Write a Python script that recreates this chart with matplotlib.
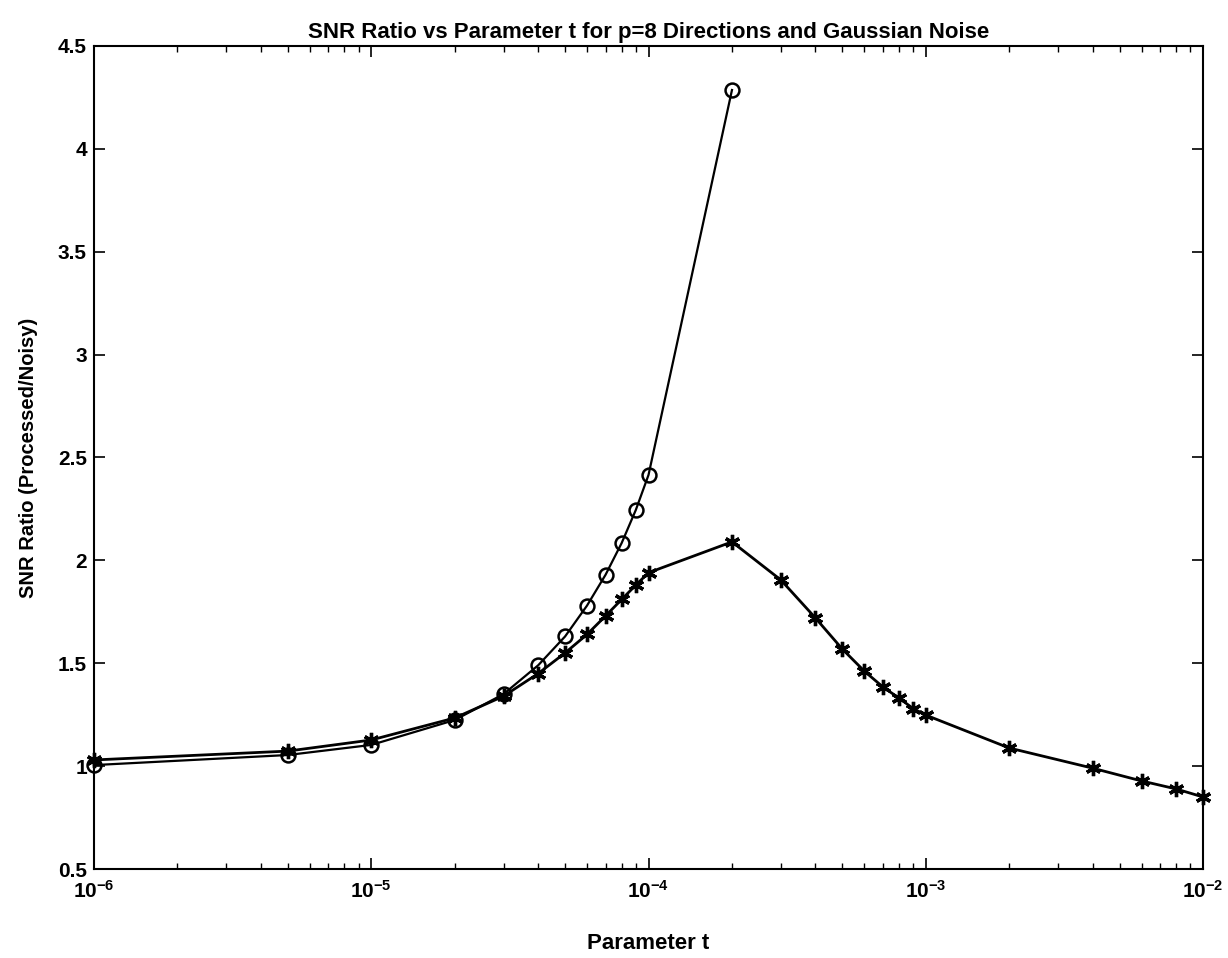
import matplotlib
matplotlib.use('Agg')
import matplotlib.pyplot as plt
from matplotlib.ticker import LogLocator, FixedLocator, NullFormatter

plt.rcParams['font.family'] = ['Liberation Sans', 'DejaVu Sans']
plt.rcParams['font.weight'] = 'bold'
plt.rcParams['mathtext.default'] = 'bf'

# circle series (stops at 2e-4)
t_circ = [1e-6, 5e-6, 1e-5, 2e-5, 3e-5, 4e-5, 5e-5, 6e-5, 7e-5, 8e-5, 9e-5, 1e-4, 2e-4]
snr_circ = [1.005, 1.054, 1.103, 1.224, 1.35, 1.49, 1.63, 1.78, 1.93, 2.084, 2.245, 2.415, 4.286]

# star series (full range)
t_star = [1e-6, 5e-6, 1e-5, 2e-5, 3e-5, 4e-5, 5e-5, 6e-5, 7e-5, 8e-5, 9e-5, 1e-4, 2e-4,
          3e-4, 4e-4, 5e-4, 6e-4, 7e-4, 8e-4, 9e-4, 1e-3, 2e-3, 4e-3, 6e-3, 8e-3, 1e-2]
snr_star = [1.03, 1.073, 1.127, 1.234, 1.34, 1.45, 1.55, 1.64, 1.73, 1.81, 1.88, 1.94, 2.09,
            1.905, 1.72, 1.569, 1.462, 1.385, 1.331, 1.28, 1.248, 1.088, 0.99, 0.928, 0.889, 0.85]

yticks = [0.5, 1, 1.5, 2, 2.5, 3, 3.5, 4, 4.5]
ytick_labels = ['0.5', '1', '1.5', '2', '2.5', '3', '3.5', '4', '4.5']

fig = plt.figure(figsize=(12.28, 9.58), dpi=100)
ax = fig.add_axes([0.0765, 0.0929, 0.9032, 0.8591])

ax.plot(t_circ, snr_circ, color='black', lw=1.6, marker='o', ms=10,
        mfc='none', mec='black', mew=1.8, clip_on=False)
ax.plot(t_star, snr_star, color='black', lw=2.0, marker=(6, 2, 0), ms=11,
        mec='black', mew=2.4, clip_on=False)

ax.set_xscale('log')
ax.set_xlim(1e-6, 1e-2)
ax.set_ylim(0.5, 4.5)
ax.yaxis.set_major_locator(FixedLocator(yticks))
ax.set_yticklabels(ytick_labels)
ax.xaxis.set_major_locator(LogLocator(base=10, numticks=10))
ax.xaxis.set_minor_locator(LogLocator(base=10, subs=range(2, 10), numticks=20))
ax.xaxis.set_minor_formatter(NullFormatter())

ax.tick_params(which='both', direction='in', top=True, right=True, labelsize=15)
ax.tick_params(which='major', length=8, width=1.2)
ax.tick_params(which='minor', length=4, width=1.0)
ax.tick_params(axis='x', pad=8)
ax.tick_params(axis='y', pad=5)
for s in ax.spines.values():
    s.set_linewidth(1.5)

ax.set_title('SNR Ratio vs Parameter t for p=8 Directions and Gaussian Noise',
             fontsize=16, fontweight='bold', pad=6)
ax.set_xlabel('Parameter t', fontsize=16, fontweight='bold', labelpad=22)
ax.set_ylabel('SNR Ratio (Processed/Noisy)', fontsize=14.5, fontweight='bold', labelpad=14)

fig.savefig('out.png', dpi=100)
